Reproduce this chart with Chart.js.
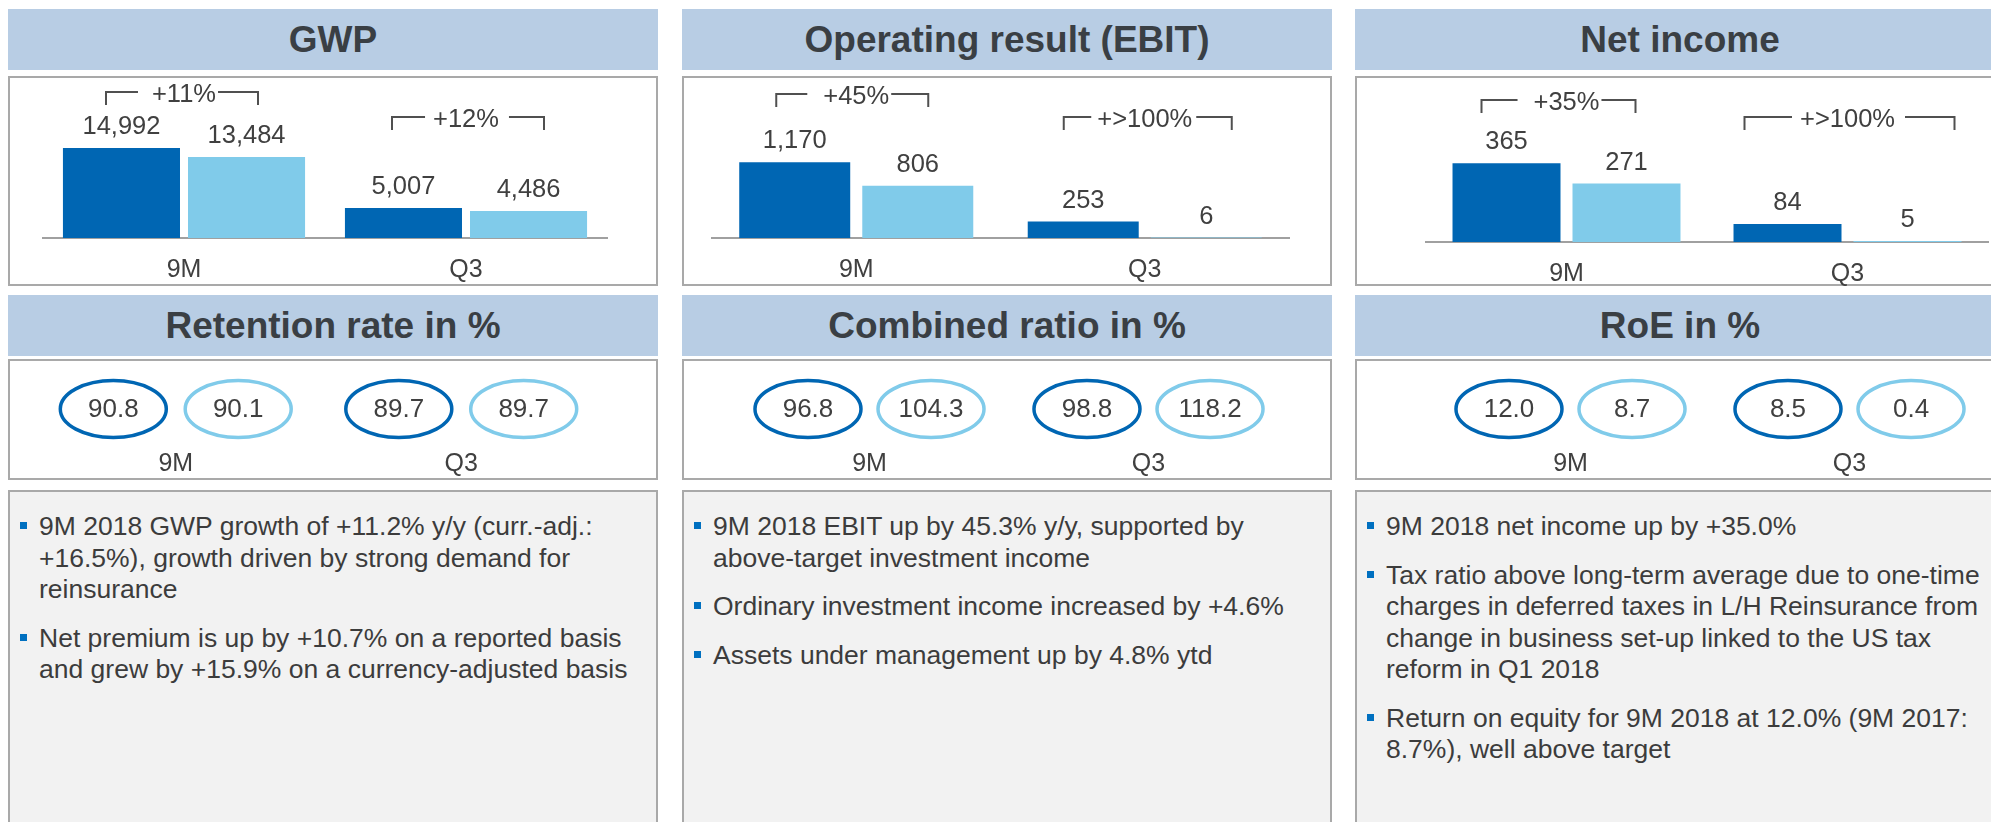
<!DOCTYPE html>
<html><head><meta charset="utf-8">
<script src="https://cdn.jsdelivr.net/npm/chart.js@4.4.0/dist/chart.umd.min.js"></script>
<style>
html,body{margin:0;padding:0;width:1991px;height:822px;overflow:hidden;background:#fff;font-family:"Liberation Sans",Arial,sans-serif;}
.band{position:absolute;height:61px;width:650px;background:#b8cde4;color:#3a3f44;font-weight:bold;font-size:37px;display:flex;align-items:center;justify-content:center;}
.box{position:absolute;width:650px;border:2px solid #a9a9a9;box-sizing:border-box;background:#fff;}
canvas{position:absolute;}
.tb{position:absolute;top:490px;width:650px;height:360px;background:#f2f2f2;border:2px solid #a9a9a9;box-sizing:border-box;padding:19px 0 0 29px;color:#3c3c3c;font-size:26.5px;line-height:31.5px;}
.tb p{margin:0 0 17px;position:relative;white-space:nowrap;}
.tb p::before{content:'';position:absolute;left:-19px;top:11px;width:7px;height:7px;background:#0070c0;}
</style></head>
<body>
<div class="band" style="left:8px;top:9px">GWP</div>
<div class="band" style="left:682px;top:9px">Operating result (EBIT)</div>
<div class="band" style="left:1355px;top:9px">Net income</div>
<div class="box" style="left:8px;top:76px;height:210px"></div>
<div class="box" style="left:682px;top:76px;height:210px"></div>
<div class="box" style="left:1355px;top:76px;height:210px"></div>
<canvas id="c1" width="650" height="210" style="left:8px;top:76px"></canvas>
<canvas id="c2" width="650" height="210" style="left:682px;top:76px"></canvas>
<canvas id="c3" width="650" height="210" style="left:1355px;top:76px"></canvas>

<div class="band" style="left:8px;top:295px">Retention rate in %</div>
<div class="band" style="left:682px;top:295px">Combined ratio in %</div>
<div class="band" style="left:1355px;top:295px">RoE in %</div>
<div class="box" style="left:8px;top:359px;height:121px"></div>
<div class="box" style="left:682px;top:359px;height:121px"></div>
<div class="box" style="left:1355px;top:359px;height:121px"></div>
<canvas id="r1" width="650" height="121" style="left:8px;top:359px"></canvas>
<canvas id="r2" width="650" height="121" style="left:682px;top:359px"></canvas>
<canvas id="r3" width="650" height="121" style="left:1355px;top:359px"></canvas>

<div class="tb" style="left:8px">
<p>9M 2018 GWP growth of +11.2% y/y (curr.-adj.:<br>+16.5%), growth driven by strong demand for<br>reinsurance</p>
<p>Net premium is up by +10.7% on a reported basis<br>and grew by +15.9% on a currency-adjusted basis</p>
</div>
<div class="tb" style="left:682px">
<p>9M 2018 EBIT up by 45.3% y/y, supported by<br>above-target investment income</p>
<p>Ordinary investment income increased by +4.6%</p>
<p>Assets under management up by 4.8% ytd</p>
</div>
<div class="tb" style="left:1355px">
<p>9M 2018 net income up by +35.0%</p>
<p>Tax ratio above long-term average due to one-time<br>charges in deferred taxes in L/H Reinsurance from<br>change in business set-up linked to the US tax<br>reform in Q1 2018</p>
<p>Return on equity for 9M 2018 at 12.0% (9M 2017:<br>8.7%), well above target</p>
</div>

<script>
// ---- data ----
const categories = ['9M', 'Q3'];
const gwp2018 = [14992, 5007];
const gwp2017 = [13484, 4486];
const gwpGrowth = ['+11%', '+12%'];
const ebit2018 = [1170, 253];
const ebit2017 = [806, 6];
const ebitGrowth = ['+45%', '+>100%'];
const net2018 = [365, 84];
const net2017 = [271, 5];
const netGrowth = ['+35%', '+>100%'];
const retention2018 = [90.8, 89.7];
const retention2017 = [90.1, 89.7];
const combined2018 = [96.8, 98.8];
const combined2017 = [104.3, 118.2];
const roe2018 = [12.0, 8.5];
const roe2017 = [8.7, 0.4];

// ---- style ----
const DARK = '#0066b3', LIGHT = '#80cbea', TXT = '#404040';
const FAM = '"Liberation Sans", Arial, sans-serif';
Chart.defaults.font.family = FAM;
Chart.defaults.color = TXT;

const valueLabels = {
  id: 'valueLabels',
  afterDatasetsDraw(chart) {
    const ctx = chart.ctx;
    ctx.save();
    ctx.font = '25.5px ' + FAM;
    ctx.fillStyle = TXT;
    ctx.textAlign = 'center';
    ctx.textBaseline = 'alphabetic';
    chart.data.datasets.forEach((ds, di) => {
      chart.getDatasetMeta(di).data.forEach((el, i) => {
        ctx.fillText(ds.data[i].toLocaleString('en-US'), el.x, el.y - 14);
      });
    });
    ctx.restore();
  }
};

const brackets = {
  id: 'brackets',
  afterDraw(chart, args, opts) {
    const ctx = chart.ctx, xs = chart.scales.x;
    ctx.save();
    ctx.font = '25.5px ' + FAM;
    ctx.fillStyle = TXT;
    ctx.strokeStyle = '#505050';
    ctx.lineWidth = 2;
    ctx.textAlign = 'center';
    ctx.textBaseline = 'middle';
    opts.items.forEach((it, i) => {
      const cx = xs.getPixelForValue(i);
      const label = opts.labels[i];
      const w = ctx.measureText(label).width;
      const y = it.y;
      ctx.beginPath();
      ctx.moveTo(cx - it.l, y + 13); ctx.lineTo(cx - it.l, y); ctx.lineTo(cx - w / 2 - it.g1, y);
      ctx.moveTo(cx + w / 2 + it.g2, y); ctx.lineTo(cx + it.r, y); ctx.lineTo(cx + it.r, y + 13);
      ctx.stroke();
      ctx.fillText(label, cx, y + 3);
    });
    ctx.restore();
  }
};

function barChart(id, a, b, growth, ymax, pad, xh, catPct, barPct, items) {
  new Chart(document.getElementById(id), {
    type: 'bar',
    data: {
      labels: categories,
      datasets: [
        { data: a, backgroundColor: DARK, categoryPercentage: catPct, barPercentage: barPct },
        { data: b, backgroundColor: LIGHT, categoryPercentage: catPct, barPercentage: barPct }
      ]
    },
    options: {
      responsive: false, animation: false, devicePixelRatio: 1,
      layout: { padding: { left: pad[0], right: pad[1], top: 0, bottom: 0 } },
      plugins: { legend: { display: false }, tooltip: { enabled: false },
        brackets: { labels: growth, items: items } },
      scales: {
        x: {
          grid: { display: false, drawTicks: false },
          border: { display: true, color: '#a0a0a0', width: 2 },
          ticks: { padding: 17, color: TXT, font: { size: 25 } },
          afterFit(s) { s.height = xh; }
        },
        y: { display: false, min: 0, max: ymax }
      }
    },
    plugins: [valueLabels, brackets]
  });
}

barChart('c1', gwp2018, gwp2017, gwpGrowth, 27000, [35, 51], 48, 0.887, 0.936,
  [{ y: 16, l: 78, r: 74, g1: 14, g2: 2 }, { y: 41, l: 74, r: 78, g1: 8, g2: 10 }]);
barChart('c2', ebit2018, ebit2017, ebitGrowth, 2500, [30, 43], 48, 0.853, 0.902,
  [{ y: 18, l: 80, r: 72, g1: 16, g2: 2 }, { y: 41, l: 81, r: 87, g1: 6, g2: 4 }]);
barChart('c3', net2018, net2017, netGrowth, 770, [71, 17], 44, 0.854, 0.9,
  [{ y: 24, l: 85, r: 69, g1: 16, g2: 2 }, { y: 41, l: 103, r: 107, g1: 8, g2: 10 }]);

const ellipses = {
  id: 'ellipses',
  afterDatasetsDraw(chart) {
    const ctx = chart.ctx;
    const yc = chart.chartArea.top + 50;
    ctx.save();
    ctx.font = '26px ' + FAM;
    ctx.textAlign = 'center';
    ctx.textBaseline = 'middle';
    chart.data.datasets.forEach((ds, di) => {
      chart.getDatasetMeta(di).data.forEach((el, i) => {
        ctx.beginPath();
        ctx.ellipse(el.x, yc, 53, 28.5, 0, 0, Math.PI * 2);
        ctx.lineWidth = 3.5;
        ctx.strokeStyle = ds.ringColor;
        ctx.stroke();
        ctx.fillStyle = TXT;
        ctx.fillText(ds.data[i].toFixed(1), el.x, yc + 1);
      });
    });
    ctx.restore();
  }
};

function ringChart(id, a, b, pad, catPct) {
  new Chart(document.getElementById(id), {
    type: 'bar',
    data: {
      labels: categories,
      datasets: [
        { data: a, ringColor: DARK, backgroundColor: 'rgba(0,0,0,0)', categoryPercentage: catPct, barPercentage: 1 },
        { data: b, ringColor: LIGHT, backgroundColor: 'rgba(0,0,0,0)', categoryPercentage: catPct, barPercentage: 1 }
      ]
    },
    options: {
      responsive: false, animation: false, devicePixelRatio: 1,
      layout: { padding: { left: pad[0], right: pad[1], top: 0, bottom: 0 } },
      plugins: { legend: { display: false }, tooltip: { enabled: false } },
      scales: {
        x: {
          grid: { display: false, drawTicks: false },
          border: { display: false },
          ticks: { padding: 9, color: TXT, font: { size: 25 } },
          afterFit(s) { s.height = 40; }
        },
        y: { display: false, min: 0, max: 1000 }
      }
    },
    plugins: [ellipses]
  });
}

ringChart('r1', retention2018, retention2017, [25, 54], 0.875);
ringChart('r2', combined2018, combined2017, [48, 44], 0.882);
ringChart('r3', roe2018, roe2017, [76, 16], 0.882);
</script>
</body></html>
